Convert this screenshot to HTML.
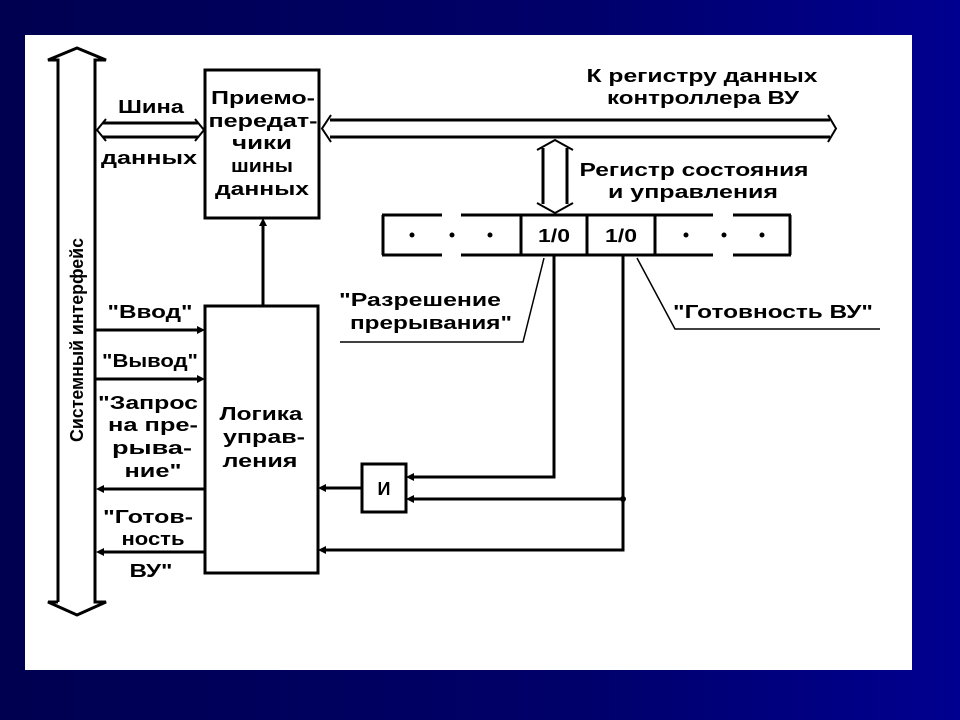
<!DOCTYPE html>
<html><head><meta charset="utf-8"><style>
html,body{margin:0;padding:0;width:960px;height:720px;overflow:hidden;background:linear-gradient(90deg,#000050 0%,#00006a 60%,#000090 100%);}
svg{position:absolute;left:0;top:0}
text{font-family:"Liberation Sans",sans-serif;font-weight:bold;font-size:18px;fill:#000;text-anchor:middle}
</style></head><body>
<svg width="960" height="720" viewBox="0 0 960 720">
<rect x="25" y="35" width="887" height="635" fill="#fff"/>
<g stroke="#000" stroke-width="3" fill="none">
<polyline points="58,602 58,60 48,60 77,48 106,60 95,60 95,602 106,602 77,615 48,602 58,602" stroke-width="3"/>
<polyline points="103,123 198,123" /><polyline points="103,137 198,137"/>
<polyline points="106,119 97,130 106,141" stroke-width="2"/>
<polyline points="195,119 204,130 195,141" stroke-width="2"/>
<rect x="205" y="70" width="114" height="148"/>
<line x1="330" y1="120" x2="830" y2="120"/><line x1="330" y1="137" x2="830" y2="137"/>
<polyline points="331,115 322,128.5 331,142" stroke-width="2"/>
<polyline points="828,115 836,128.5 828,142" stroke-width="2"/>
<polyline points="543,148 543,204" /><polyline points="567,148 567,204"/>
<polyline points="537,150 555,140 573,150" stroke-width="2"/>
<polyline points="537,203 555,213 573,203" stroke-width="2"/>
<line x1="383" y1="215" x2="383" y2="255"/><line x1="790" y1="215" x2="790" y2="255"/>
<line x1="521" y1="215" x2="521" y2="255"/><line x1="587" y1="215" x2="587" y2="255"/><line x1="655" y1="215" x2="655" y2="255"/>
<line x1="382" y1="215" x2="442" y2="215"/><line x1="461" y1="215" x2="713" y2="215"/><line x1="733" y1="215" x2="791" y2="215"/>
<line x1="382" y1="255" x2="442" y2="255"/><line x1="461" y1="255" x2="713" y2="255"/><line x1="733" y1="255" x2="791" y2="255"/>
<rect x="205" y="306" width="113" height="267"/>
<line x1="263" y1="306" x2="263" y2="224"/>
<line x1="96" y1="330" x2="198" y2="330"/><line x1="96" y1="379" x2="198" y2="379"/>
<line x1="103" y1="489" x2="205" y2="489"/><line x1="103" y1="552" x2="205" y2="552"/>
<rect x="362" y="464" width="44" height="48"/>
<line x1="362" y1="488" x2="325" y2="488"/>
<polyline points="554,255 554,477 413,477"/>
<polyline points="623,255 623,550 325,550"/>
<line x1="623" y1="499" x2="413" y2="499"/>
</g>
<g fill="#000">
<polygon points="263,218 259,226 267,226"/>
<polygon points="205,330 197,326 197,334"/><polygon points="205,379 197,375 197,383"/>
<polygon points="96,489 104,485 104,493"/><polygon points="96,552 104,548 104,556"/>
<polygon points="318,488 326,484 326,492"/><polygon points="318,550 326,546 326,554"/>
<polygon points="406,477 414,473 414,481"/><polygon points="406,499 414,495 414,503"/>
<circle cx="623" cy="499" r="3"/>
<circle cx="412" cy="235" r="2.5"/><circle cx="452" cy="235" r="2.5"/><circle cx="490" cy="235" r="2.5"/>
<circle cx="686" cy="235" r="2.5"/><circle cx="724" cy="235" r="2.5"/><circle cx="762" cy="235" r="2.5"/>
</g>
<g stroke="#000" stroke-width="1.5" fill="none">
<polyline points="340,342 523,342 544,258"/>
<polyline points="880,329 675,329 637,258"/>
</g>
<g lengthAdjust="spacingAndGlyphs">
<text x="263" y="104" textLength="104" lengthAdjust="spacingAndGlyphs">Приемо-</text>
<text x="263" y="127" textLength="109" lengthAdjust="spacingAndGlyphs">передат-</text>
<text x="262" y="149" textLength="60" lengthAdjust="spacingAndGlyphs">чики</text>
<text x="262" y="172" textLength="62" lengthAdjust="spacingAndGlyphs">шины</text>
<text x="262" y="195" textLength="94" lengthAdjust="spacingAndGlyphs">данных</text>
<text x="151" y="113" textLength="66" lengthAdjust="spacingAndGlyphs">Шина</text>
<text x="149" y="164" textLength="96" lengthAdjust="spacingAndGlyphs">данных</text>
<text x="702" y="82" textLength="231" lengthAdjust="spacingAndGlyphs">К регистру данных</text>
<text x="703" y="104" textLength="192" lengthAdjust="spacingAndGlyphs">контроллера ВУ</text>
<text x="694" y="176" textLength="229" lengthAdjust="spacingAndGlyphs">Регистр состояния</text>
<text x="693" y="198" textLength="170" lengthAdjust="spacingAndGlyphs">и управления</text>
<text x="554" y="242" textLength="32" lengthAdjust="spacingAndGlyphs">1/0</text>
<text x="621" y="242" textLength="32" lengthAdjust="spacingAndGlyphs">1/0</text>
<text x="420" y="306" textLength="162" lengthAdjust="spacingAndGlyphs">"Разрешение</text>
<text x="431" y="329" textLength="162" lengthAdjust="spacingAndGlyphs">прерывания"</text>
<text x="773" y="318" textLength="200" lengthAdjust="spacingAndGlyphs">"Готовность ВУ"</text>
<text x="150" y="318" textLength="85" lengthAdjust="spacingAndGlyphs">"Ввод"</text>
<text x="150" y="367" textLength="96" lengthAdjust="spacingAndGlyphs">"Вывод"</text>
<text x="148" y="409" textLength="100" lengthAdjust="spacingAndGlyphs">"Запрос</text>
<text x="153" y="431" textLength="90" lengthAdjust="spacingAndGlyphs">на пре-</text>
<text x="152" y="454" textLength="80" lengthAdjust="spacingAndGlyphs">рыва-</text>
<text x="153" y="477" textLength="57" lengthAdjust="spacingAndGlyphs">ние"</text>
<text x="148" y="523" textLength="90" lengthAdjust="spacingAndGlyphs">"Готов-</text>
<text x="153" y="545" textLength="63" lengthAdjust="spacingAndGlyphs">ность</text>
<text x="151" y="577" textLength="43" lengthAdjust="spacingAndGlyphs">ВУ"</text>
<text x="261" y="420" textLength="83" lengthAdjust="spacingAndGlyphs">Логика</text>
<text x="264" y="443" textLength="82" lengthAdjust="spacingAndGlyphs">управ-</text>
<text x="260" y="467" textLength="75" lengthAdjust="spacingAndGlyphs">ления</text>
<text x="384" y="495" font-size="19">И</text>
</g>
<text transform="translate(83,340) rotate(-90)" font-weight="normal" font-size="18" textLength="204" lengthAdjust="spacingAndGlyphs">Системный интерфейс</text>
</svg>
</body></html>
